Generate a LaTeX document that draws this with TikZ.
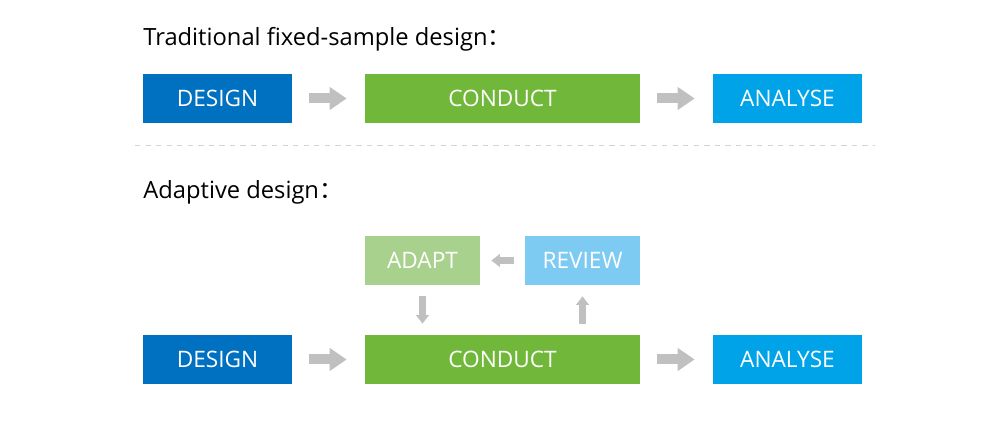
\documentclass[tikz,border=0pt]{standalone}
\usepackage{fontspec}
\setmainfont{Open Sans}
\newfontfamily\cjk{Noto Sans CJK SC}
\usetikzlibrary{arrows.meta}
\definecolor{designblue}{RGB}{0,112,192}
\definecolor{conductgreen}{RGB}{112,183,58}
\definecolor{analyseblue}{RGB}{0,163,232}
\definecolor{adaptgreen}{RGB}{169,209,142}
\definecolor{reviewblue}{RGB}{125,203,243}
\definecolor{arrowgray}{RGB}{192,192,192}

\begin{document}
\begin{tikzpicture}[x=0.02cm,y=-0.02cm,
    stage/.style={inner sep=0pt,minimum height=0.98cm,text=white,
                  font=\fontsize{12.9}{15}\selectfont},
    heading/.style={inner sep=0pt,anchor=base west,
                  font=\fontsize{13.5}{16}\selectfont},
    bigarrow/.style={draw=arrowgray,line width=0.2cm,
                  -{Triangle[length=0.34cm,width=0.44cm]},
                  shorten <=0.34cm,shorten >=0.36cm},
    smallarrow/.style={draw=arrowgray,line width=0.13cm,
                  -{Triangle[length=0.17cm,width=0.25cm]},
                  shorten <=0.22cm,shorten >=0.22cm}]
    \useasboundingbox (0,0) rectangle (1000,421);

    % traditional design
    \node[heading] (tradtitle) at (143,46) {Traditional fixed-sample design{\cjk ：}};
    \node[stage,fill=designblue,minimum width=2.98cm] (design1) at (217.5,98.5) {DESIGN};
    \node[stage,fill=conductgreen,minimum width=5.5cm] (conduct1) at (502.5,98.5) {CONDUCT};
    \node[stage,fill=analyseblue,minimum width=2.98cm] (analyse1) at (787.5,98.5) {ANALYSE};
    \draw[bigarrow] (design1) -- (conduct1);
    \draw[bigarrow] (conduct1) -- (analyse1);

    \draw[arrowgray!70,dashed,dash pattern=on 3pt off 3pt,thin] (135,145) -- (875,145);

    % adaptive design
    \node[heading] (adapttitle) at (143,199) {Adaptive design{\cjk ：}};
    \node[stage,fill=adaptgreen,minimum width=2.3cm] (adapt) at (422.5,260.5) {ADAPT};
    \node[stage,fill=reviewblue,minimum width=2.3cm] (review) at (582.5,260.5) {REVIEW};
    \node[stage,fill=designblue,minimum width=2.98cm] (design2) at (217.5,359.5) {DESIGN};
    \node[stage,fill=conductgreen,minimum width=5.5cm] (conduct2) at (502.5,359.5) {CONDUCT};
    \node[stage,fill=analyseblue,minimum width=2.98cm] (analyse2) at (787.5,359.5) {ANALYSE};
    \draw[bigarrow] (design2) -- (conduct2);
    \draw[bigarrow] (conduct2) -- (analyse2);
    \draw[smallarrow] (review) -- (adapt);
    \draw[smallarrow] (adapt) -- (adapt |- conduct2.north);
    \draw[smallarrow] (review |- conduct2.north) -- (review);
\end{tikzpicture}
\end{document}
